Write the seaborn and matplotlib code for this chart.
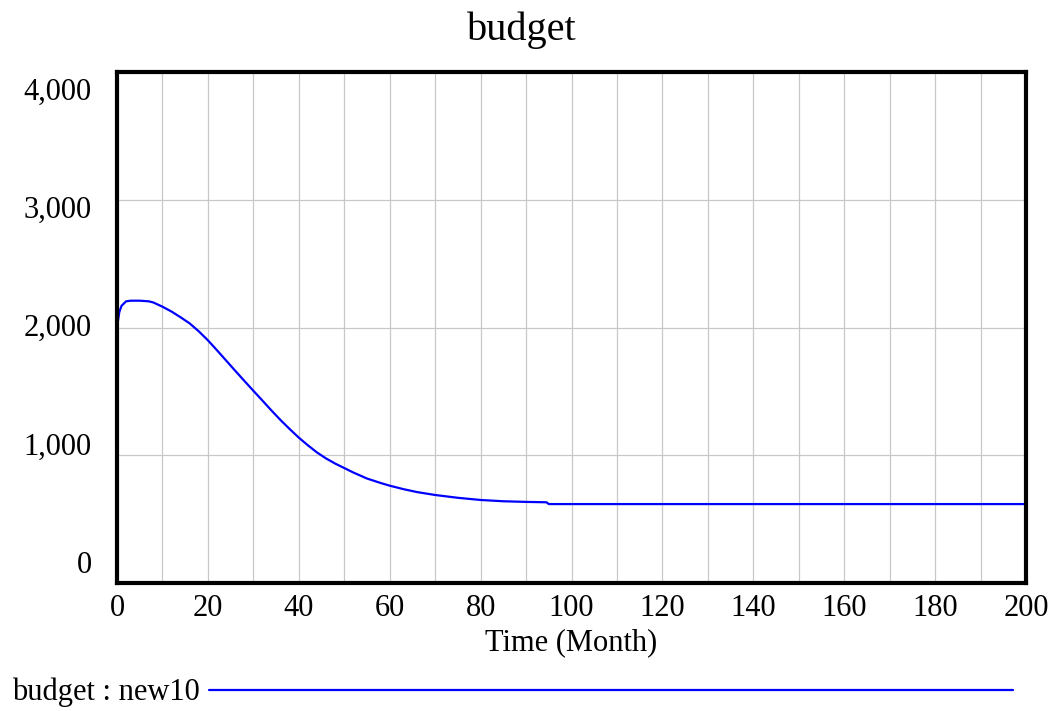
import numpy as np
import pandas as pd
import seaborn as sns
import matplotlib
matplotlib.use("Agg")
import matplotlib.pyplot as plt
from matplotlib.ticker import MultipleLocator

# Simulation output: budget over time (run "new10")
time_month = [0, 0.5, 1, 2, 3, 5, 7, 8, 10, 12, 14, 16, 18, 20, 22, 24, 26,
              28, 30, 32, 34, 36, 38, 40, 42, 44, 46, 48, 50, 52, 55, 58, 60,
              63, 66, 70, 75, 80, 85, 90, 94.5, 95, 120, 150, 200]
budget = [2000, 2120, 2170, 2205, 2210, 2210, 2205, 2196, 2163, 2125, 2080,
          2032, 1970, 1900, 1822, 1742, 1662, 1583, 1505, 1428, 1350, 1275,
          1205, 1138, 1078, 1022, 975, 935, 900, 865, 818, 783, 762, 735, 712,
          689, 667, 650, 640, 635, 632, 618, 618, 618, 618]

y_ticks = [0, 1000, 2000, 3000, 4000]
y_tick_labels = ["0", "1,000", "2,000", "3,000", "4,000"]
run_name = "new10"
var_name = "budget"

df = pd.DataFrame({"time": time_month, "value": budget})

sns.set_style("white")
plt.rcParams["font.family"] = ["Liberation Serif", "DejaVu Serif"]
plt.rcParams.update({"text.color": "black", "axes.labelcolor": "black",
                     "xtick.color": "black", "ytick.color": "black"})

fig = plt.figure(figsize=(10.54, 7.11), dpi=100)
ax = fig.add_axes([0.111, 0.180, 0.8625, 0.7187])

sns.lineplot(data=df, x="time", y="value", ax=ax, color="#0000ff",
             linewidth=1.6, label=f"{var_name} : {run_name}", legend=False)

ax.set_xlim(0, 200)
ax.set_ylim(0, 4000)

# grid: every 10 months, every 1000 units
ax.xaxis.set_major_locator(MultipleLocator(10))
ax.set_yticks(y_ticks)
ax.grid(True, color="#c8c8c8", linewidth=0.9)
ax.set_axisbelow(True)

ax.set_xticklabels([str(int(t)) if int(t) % 20 == 0 else "" for t in ax.get_xticks()],
                   fontsize=22)
ax.tick_params(axis="x", length=0, pad=8)
ax.set_yticklabels([])
ax.tick_params(axis="y", length=0)

# y labels spread inside the axis span
for v, lab in zip(y_ticks, y_tick_labels):
    frac = 0.035 + v / 4000 * 0.926
    ax.text(-0.028, frac, lab, transform=ax.transAxes, ha="right", va="center",
            fontsize=22, color="black")

for s in ax.spines.values():
    s.set_visible(True)
    s.set_color("black")
    s.set_linewidth(3)

ax.set_xlabel("Time (Month)", fontsize=22, labelpad=4)
ax.set_ylabel("")
fig.text(0.495, 0.958, var_name, ha="center", va="center", fontsize=29)

handles, labels = ax.get_legend_handles_labels()
fig.legend(handles, labels, loc="center left", bbox_to_anchor=(0.0, 0.026),
           frameon=False, markerfirst=False, handlelength=26.3, handletextpad=0.3,
           fontsize=22, borderaxespad=0.0)

fig.savefig("out.png", dpi=100)
